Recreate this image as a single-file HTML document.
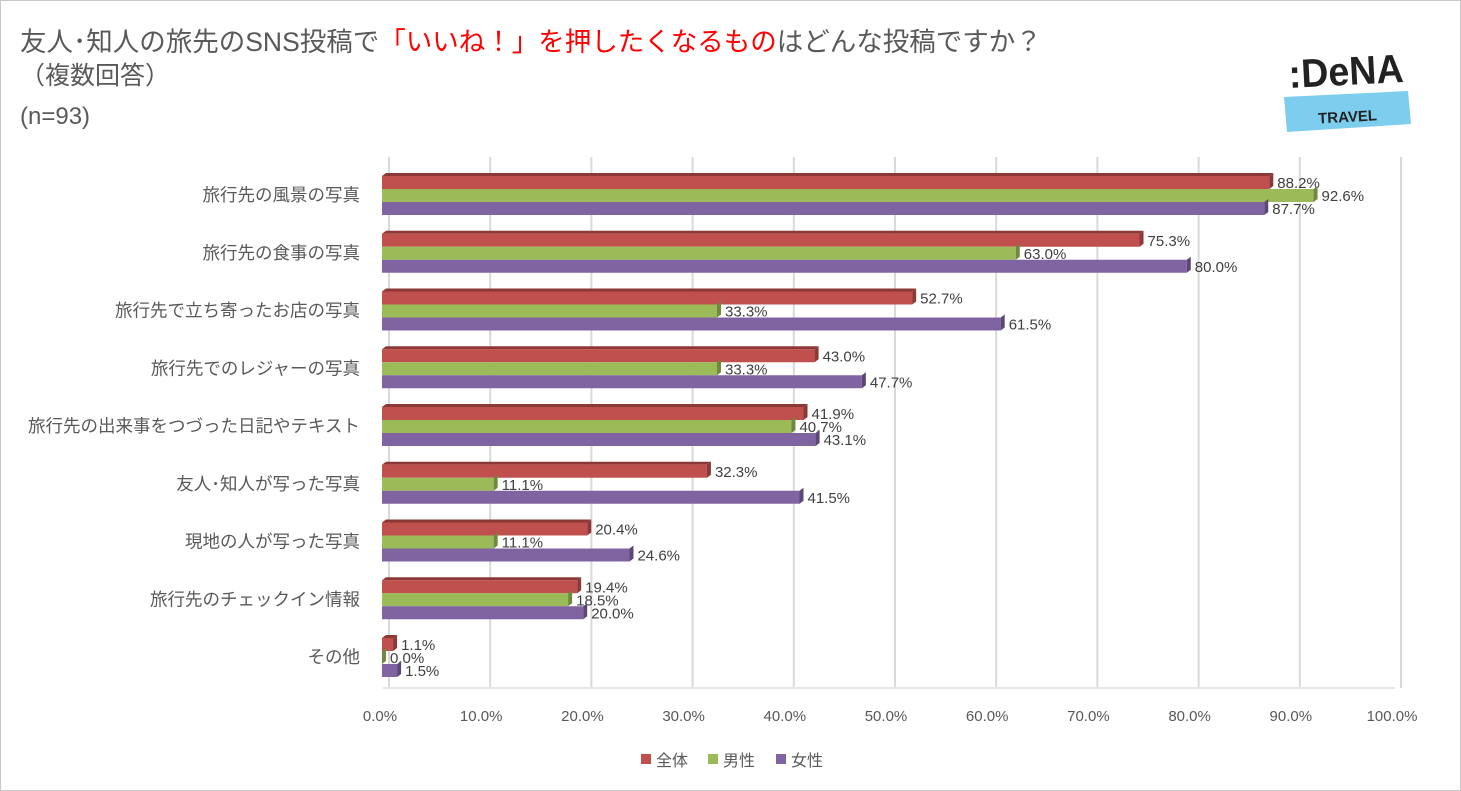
<!DOCTYPE html>
<html><head><meta charset="utf-8"><style>
body{margin:0;background:#fff}
svg{display:block;font-family:"Liberation Sans","Noto Sans CJK JP",sans-serif}
</style></head><body>
<svg id="s" width="1461" height="791" xmlns="http://www.w3.org/2000/svg">
<rect x="0.5" y="0.5" width="1460" height="790" fill="#fff" stroke="#c8c8c8"/>
<text x="20" y="51" font-size="26.5" fill="#595959">友人･知人の旅先のSNS投稿で<tspan fill="#ff0000">「いいね！」を押したくなるもの</tspan>はどんな投稿ですか？</text>
<text x="20" y="84" font-size="25" fill="#595959">（複数回答）</text>
<text x="20" y="124" font-size="24" fill="#595959">(n=93)</text>
<g transform="translate(1287,44) rotate(-3)">
<text x="0" y="44" font-size="40" font-weight="bold" fill="#222" textLength="115" lengthAdjust="spacingAndGlyphs">:DeNA</text>
</g>
<polygon points="1284,97 1408,91 1411,124 1287,132" fill="#7ccdee"/>
<text x="1318" y="122" font-size="15" font-weight="bold" fill="#222" transform="rotate(-3 1345 115)">TRAVEL</text>
<g id="g"></g>
<rect x="641" y="754" width="10" height="10" fill="#c0504d"/><text x="656" y="766" font-size="16" fill="#595959">全体</text>
<rect x="708" y="754" width="10" height="10" fill="#9bbb59"/><text x="723" y="766" font-size="16" fill="#595959">男性</text>
<rect x="776" y="754" width="10" height="10" fill="#8064a2"/><text x="791" y="766" font-size="16" fill="#595959">女性</text>
</svg>
<script>
var g=document.getElementById('g'),h='';
for(var i=0;i<=10;i++){var x=389+101.2*i;h+='<line x1="'+x+'" y1="157" x2="'+x+'" y2="688" stroke="#d9d9d9" stroke-width="2"/>';
h+='<text x="'+(380+101.2*i)+'" y="721" font-size="15" fill="#595959" text-anchor="middle">'+(i*10)+'.0%</text>';}
h+='<line x1="383" y1="688" x2="1395" y2="688" stroke="#e6e6e6" stroke-width="2"/>';
var cats=['旅行先の風景の写真','旅行先の食事の写真','旅行先で立ち寄ったお店の写真','旅行先でのレジャーの写真','旅行先の出来事をつづった日記やテキスト','友人･知人が写った写真','現地の人が写った写真','旅行先のチェックイン情報','その他'];
var v=[[88.2,92.6,87.7],[75.3,63.0,80.0],[52.7,33.3,61.5],[43.0,33.3,47.7],[41.9,40.7,43.1],[32.3,11.1,41.5],[20.4,11.1,24.6],[19.4,18.5,20.0],[1.1,0.0,1.5]];
var col=['#c0504d','#9bbb59','#8064a2'],dk=['#8c3836','#71893f','#5c4776'];
for(var k=0;k<9;k++){var y0=173+57.75*k;
h+='<text x="360" y="'+(y0+28)+'" font-size="17.5" fill="#595959" text-anchor="end">'+cats[k]+'</text>';
for(var j=0;j<3;j++){var w=v[k][j]*10.06,x0=382,y=y0+3+13*j,x1=x0+w;
if(j==0)h+='<polygon points="'+x0+','+y+' '+(x0+4)+','+(y-3)+' '+(x1+4)+','+(y-3)+' '+x1+','+y+'" fill="'+dk[j]+'"/>';
h+='<rect x="'+x0+'" y="'+y+'" width="'+Math.max(w,0.5)+'" height="13" fill="'+col[j]+'"/>';
h+='<polygon points="'+x1+','+y+' '+(x1+4)+','+(y-3)+' '+(x1+4)+','+(y+10)+' '+x1+','+(y+13)+'" fill="'+dk[j]+'"/>';
h+='<text x="'+(x1+8)+'" y="'+(y+12)+'" font-size="15" fill="#404040">'+v[k][j].toFixed(1)+'%</text>';}}
g.innerHTML=h;
</script>
</body></html>
